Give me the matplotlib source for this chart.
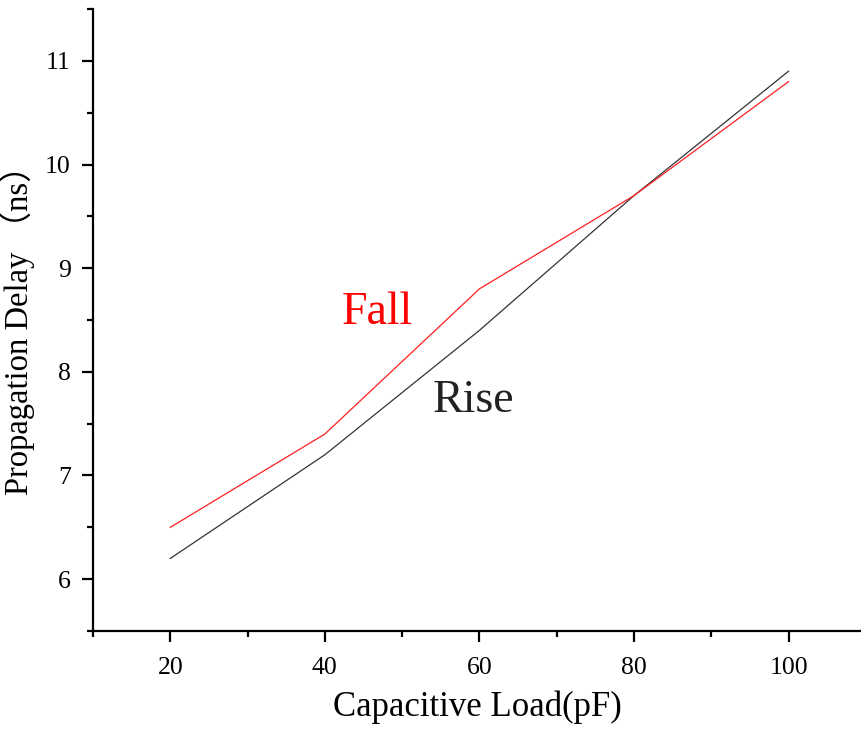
import numpy as np
import matplotlib
matplotlib.use("Agg")
import matplotlib.pyplot as plt
from matplotlib.ticker import MultipleLocator

# data
load_pf = [20, 40, 60, 80, 100]
rise_ns = [6.2, 7.2, 8.4, 9.7, 10.9]
fall_ns = [6.5, 7.4, 8.8, 9.7, 10.8]
xticks = [20, 40, 60, 80, 100]
yticks = [6, 7, 8, 9, 10, 11]

fonts = ['Liberation Serif', 'Noto Sans CJK SC', 'DejaVu Serif']
plt.rcParams['font.family'] = fonts

fig = plt.figure(figsize=(8.62, 7.29), dpi=100)
ax = fig.add_axes([93/862, 1 - 631/729, 1 - 93/862, (631 - 9)/729])

ax.plot(load_pf, rise_ns, color='#333333', linewidth=0.9)
ax.plot(load_pf, fall_ns, color='#ff2020', linewidth=0.9)

ax.text(42.2, 8.57, "Fall", color='red', fontsize=33, va='center', ha='left')
ax.text(53.9, 7.72, "Rise", color='#222222', fontsize=33, va='center', ha='left')

ax.set_xlim(10, 109.5)
ax.set_ylim(5.5, 11.5)
ax.set_xticks(xticks)
ax.set_yticks(yticks)
ax.xaxis.set_minor_locator(MultipleLocator(10))
ax.yaxis.set_minor_locator(MultipleLocator(0.5))

for s in ['top', 'right']:
    ax.spines[s].set_visible(False)
for s in ['left', 'bottom']:
    ax.spines[s].set_linewidth(1.6)

ax.tick_params(which='major', direction='out', length=8, width=1.6, labelsize=18.5, color='black')
ax.tick_params(which='minor', direction='out', length=4.5, width=1.6)
ax.tick_params(axis='x', which='major', pad=11)
ax.tick_params(axis='y', which='major', pad=8)

ax.set_xlabel("Capacitive Load(pF)", fontsize=25, labelpad=8)
ax.set_ylabel("Propagation Delay （ns）", fontsize=23.5)
ax.yaxis.set_label_coords(-58/769, (631 - 322)/622)

fig.savefig("out.png", dpi=100)
